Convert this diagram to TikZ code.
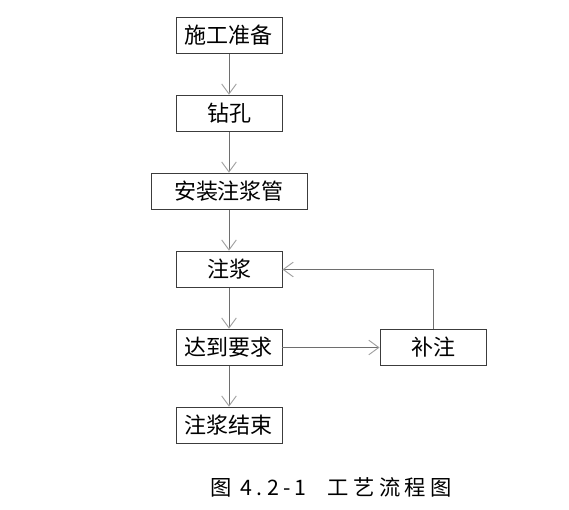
\documentclass[tikz,border=0pt]{standalone}
\usepackage{fontspec}
\newfontfamily\cjk{Noto Sans CJK SC}
\newfontfamily\cjkcap[LetterSpace=20]{Noto Sans CJK SC}
\usepackage{tikz}
\usetikzlibrary{arrows.meta}
\usetikzlibrary{positioning}
\definecolor{boxgray}{RGB}{60,60,60}
\definecolor{linegray}{RGB}{110,110,110}
\definecolor{tipgray}{RGB}{160,160,160}
\tikzstyle{procbox} = [rectangle,draw=boxgray,fill=white,line width=0.7pt,font=\cjk\fontsize{16.5}{18}\selectfont,inner sep=0pt,minimum width=79.5pt,minimum height=27.5pt]
\tikzstyle{flow} = [draw=linegray,line width=0.7pt,-{Straight Barb[length=7.5pt,width=11pt,color=tipgray]}]

\begin{document}
\begin{tikzpicture}[x=0.75pt,y=-0.75pt,node distance=58.5pt]
    \useasboundingbox (0,0) rectangle (569,510);

      \node[procbox] (prep)                  at (229,35.5) {施工准备};
      \node[procbox] (drill)  [below of=prep]  {钻孔};
      \node[procbox,minimum width=117pt] (pipe) [below of=drill] {安装注浆管};
      \node[procbox] (grout)  [below of=pipe]  {注浆};
      \node[procbox] (reach)  [below of=grout] {达到要求};
      \node[procbox] (finish) [below of=reach] {注浆结束};
      \node[procbox] (supp)   [right of=reach,node distance=153pt] {补注};

      \path[flow]
        \foreach \a/\b in {prep/drill,drill/pipe,pipe/grout,grout/reach,reach/finish} {
          (\a) edge (\b)
        } ;
      \draw[flow] (reach) -- (supp);
      \draw[flow] (supp.north) |- (grout.east);

      \node (caption) at (331,487) {\cjkcap\fontsize{16}{18}\selectfont 图 4.2-1\quad 工艺流程图};
    \end{tikzpicture}
\end{document}
